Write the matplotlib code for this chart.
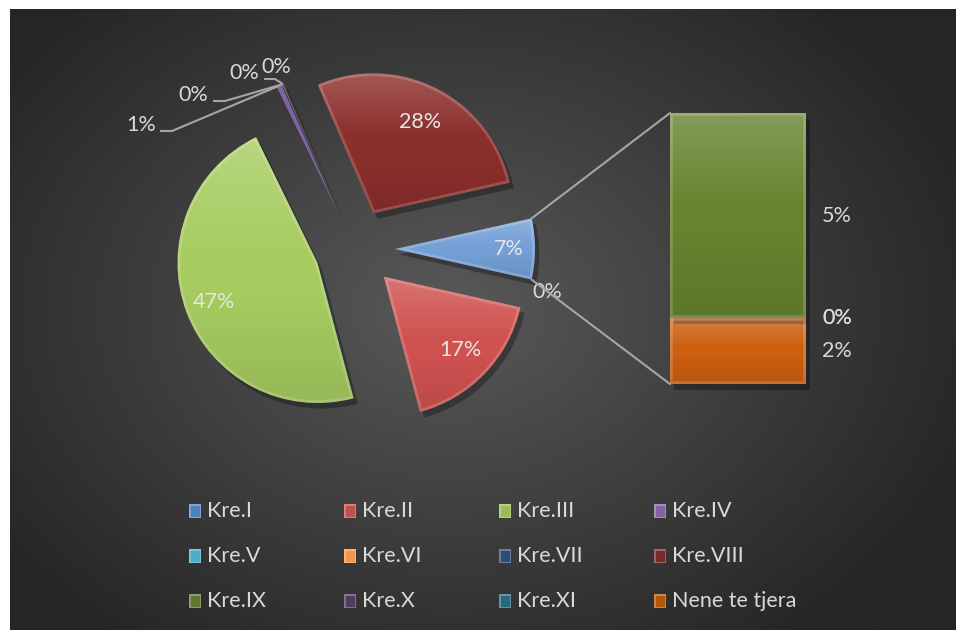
import numpy as np
import matplotlib
matplotlib.use('Agg')
import matplotlib.pyplot as plt
from matplotlib.patches import Wedge, Rectangle, ConnectionPatch
import matplotlib.patheffects as pe
from matplotlib.colors import to_rgb

plt.rcParams['font.family'] = ['Lato', 'DejaVu Sans']

# ---------------- data ----------------
pie_names = ['Kre.I', 'Kre.II', 'Kre.III', 'Kre.IV', 'Kre.V', 'Kre.VI', 'Kre.VII', 'Kre.VIII']
pie_values = [0.0, 17.3, 46.8, 0.6, 0.05, 0.05, 0.05, 27.9]
bar_names = ['Kre.IX', 'Kre.X', 'Kre.XI', 'Nene te tjera']
bar_values = [5.3, 0.0, 0.0, 1.7]
legend_names = pie_names + bar_names
legend_colors = ['#4f81bd', '#c0504d', '#9bbb59', '#8064a2', '#4bacc6', '#f79646',
                 '#2c4d75', '#772c2a', '#5f7530', '#4d3b62', '#276a7c', '#b65708']
pie_colors = ['#4f81bd', '#cf5250', '#a6cc60', '#8064a2', '#4bacc6', '#f79646',
              '#2c4d75', '#8b2f2c']
other_color = '#74a0d6'
bar_colors = ['#66842f', '#4d3b62', '#276a7c', '#cc5f10']

TXT = '#d9d9d9'
LINE = '#a6a6a6'
FS = 15.5
W, H = 956, 630


def Y(y):  # image row -> data y
    return H - y


fig = plt.figure(figsize=(W / 100, H / 100), dpi=100)
fig.patch.set_facecolor('white')
ax = fig.add_axes([0, 0, 1, 1])

# background radial gradient (chart area)
gx, gy = np.meshgrid(np.linspace(10, W, 400), np.linspace(0, Y(9), 300))
d = np.sqrt(((gx - 450) / 560) ** 2 + ((gy - Y(310)) / 420) ** 2)
d = np.clip(d, 0, 1)
c0 = np.array(to_rgb('#595959'))
c1 = np.array(to_rgb('#252525'))
img = c0 + (c1 - c0) * d[..., None]
ax.imshow(img, extent=(10, W, 0, Y(9)), origin='lower', zorder=0, aspect='auto',
          interpolation='bilinear')


def bevel(patch, strong=True):
    patch.set_path_effects([pe.SimplePatchShadow(offset=(3, -4), shadow_rgbFace='black',
                                                 alpha=0.3), pe.Normal()])
    if not strong:
        return
    v = patch.get_path().vertices
    if not np.allclose(patch.get_patch_transform().get_matrix(), np.eye(3)):
        v = patch.get_patch_transform().transform(v)
    x0, y0 = v.min(axis=0)
    x1, y1 = v.max(axis=0)
    t = np.linspace(0, 1, 64)[:, None]
    g = np.zeros((64, 2, 4))
    a_white = np.clip((t - 0.55) / 0.45, 0, 1) * 0.2
    a_black = np.clip((0.45 - t) / 0.45, 0, 1) * 0.1
    g[..., :3] = np.where(a_white > 0, 1.0, 0.0)[..., None]
    g[..., 3] = (a_white + a_black)
    im = patch.axes.imshow(g, extent=(x0, x1, y0, y1), origin='lower', aspect='auto',
                           zorder=patch.get_zorder() + 0.1, interpolation='bilinear')
    im.set_clip_path(patch)


# ---------------- pie ----------------
other = sum(bar_values)
total = sum(pie_values) + other
vals = pie_values + [other]
cols = pie_colors + [other_color]
start = -(other / total) * 360 / 2
wedges, _ = ax.pie(vals, colors=cols, startangle=start, counterclock=False,
                   radius=140, center=(355, Y(249)), explode=[40] * len(vals),
                   wedgeprops=dict(linewidth=0, zorder=3), normalize=True)

for w, v in zip(wedges, vals):
    big = v / total * 100 >= 1.5
    bevel(w, strong=big)
    if big:
        hl = Wedge(w.center, w.r, w.theta1, w.theta2, fill=False,
                   edgecolor='white', lw=4, alpha=0.18, zorder=3.2)
        ax.add_patch(hl)
        hl.set_clip_path(w)

# inside labels (distance as fraction of radius, per slice)
label_dist = {1: 0.76, 2: 0.79, 7: 0.73, 8: 0.81}
for i, (w, v) in enumerate(zip(wedges, vals)):
    pct = v / total * 100
    if pct >= 1.5:
        mid = np.deg2rad((w.theta1 + w.theta2) / 2)
        cx, cy = w.center
        dd = label_dist.get(i, 0.77)
        ax.text(cx + dd * w.r * np.cos(mid), cy + dd * w.r * np.sin(mid),
                f'{pct:.0f}%', color='#e6e6e6', fontsize=FS, ha='center', va='center',
                zorder=5)

# Kre.I label outside
w = wedges[0]
mid = np.deg2rad((w.theta1 + w.theta2) / 2)
ax.text(w.center[0] + 1.12 * w.r * np.cos(mid), w.center[1] + 1.12 * w.r * np.sin(mid),
        f'{vals[0] / total * 100:.0f}%', color=TXT, fontsize=FS, ha='center', va='center',
        zorder=5)

# small slices with leader lines (Kre.IV .. Kre.VII)
lead_text = [(141, 125), (193, 95), (244, 73), (276, 67)]
lead_elbow = [[(160, 131), (172, 131)], [(213, 101), (225, 101)],
              [(264, 79), (275, 79)], None]
for k, idx in enumerate(range(3, 7)):
    w = wedges[idx]
    mid = np.deg2rad((w.theta1 + w.theta2) / 2)
    tip = (w.center[0] + w.r * np.cos(mid), w.center[1] + w.r * np.sin(mid))
    if lead_elbow[k] is not None:
        (ax0, ay0), (ax1, ay1) = lead_elbow[k]
        ax.plot([ax0, ax1, tip[0]], [Y(ay0), Y(ay1), tip[1]], color=LINE, lw=1.5,
                zorder=4, solid_capstyle='butt')
    tx, ty = lead_text[k]
    ax.text(tx, Y(ty), f'{vals[idx] / total * 100:.0f}%', color=TXT, fontsize=FS,
            ha='center', va='center', zorder=5)

ax.set_xlim(0, W)
ax.set_ylim(0, H)
ax.set_axis_off()

# ---------------- bar of "other" ----------------
bax = fig.add_axes([670 / W, Y(384) / H, 136 / W, 271 / H])
bax.set_axis_off()
bottom = 0.0
for name, v, c in reversed(list(zip(bar_names, bar_values, bar_colors))):
    rect = bax.bar(0, v, width=1.0, bottom=bottom, color=c, linewidth=0, zorder=3,
                   clip_on=False)[0]
    if v / total * 100 >= 1.0:
        bevel(rect, strong=True)
        hl = Rectangle(rect.get_xy(), rect.get_width(), rect.get_height(), fill=False,
                       edgecolor='white', lw=4, alpha=0.18, zorder=3.2)
        bax.add_patch(hl)
        hl.set_clip_path(rect)
    bax.annotate(f'{v / total * 100:.0f}%', xy=(0.5, bottom + v / 2), xytext=(16, 0),
                 textcoords='offset pixels', ha='left', va='center', color=TXT,
                 fontsize=FS, annotation_clip=False)
    bottom += v
bax.set_xlim(-0.5, 0.5)
bax.set_ylim(0, other)

# connector lines
w = wedges[-1]
for th, yb in ((w.theta2, other), (w.theta1, 0.0)):
    p = (w.center[0] + w.r * np.cos(np.deg2rad(th)), w.center[1] + w.r * np.sin(np.deg2rad(th)))
    con = ConnectionPatch(xyA=p, coordsA=ax.transData, xyB=(-0.5, yb), coordsB=bax.transData,
                          color=LINE, lw=1.5, zorder=2)
    fig.add_artist(con)

# ---------------- legend ----------------
for i, (name, c) in enumerate(zip(legend_names, legend_colors)):
    r, col = divmod(i, 4)
    x = 189 + col * 155
    y = 511 + r * 45
    sq = Rectangle((x, Y(y) - 7), 12, 14, facecolor=c, edgecolor='none', zorder=5)
    ax.add_patch(sq)
    hl = Rectangle((x, Y(y) - 7), 12, 14, fill=False, edgecolor='white', lw=2,
                   alpha=0.3, zorder=5.1)
    ax.add_patch(hl)
    hl.set_clip_path(sq)
    ax.text(x + 18, Y(y), name, color=TXT, fontsize=FS, ha='left', va='center', zorder=5)

ax.set_xlim(0, W)
ax.set_ylim(0, H)

fig.savefig('out.png', dpi=100, facecolor=fig.get_facecolor())
